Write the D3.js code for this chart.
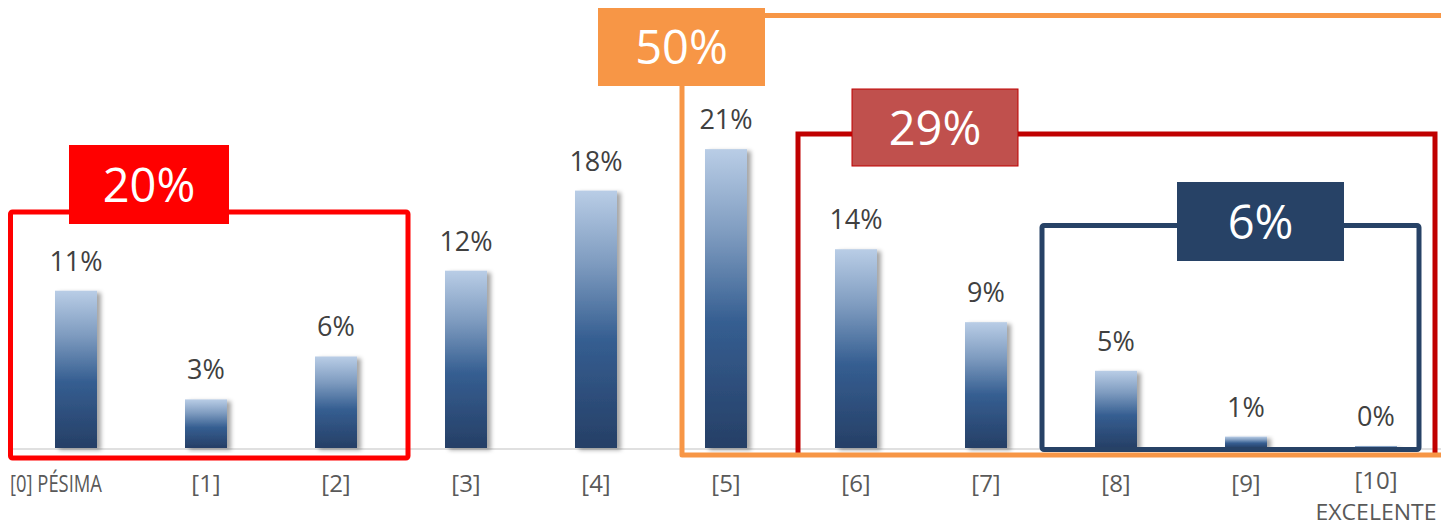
<!DOCTYPE html>
<html>
<head>
<meta charset="utf-8">
<script src="https://cdnjs.cloudflare.com/ajax/libs/d3/7.8.5/d3.min.js"></script>
<style>
  html, body { margin: 0; padding: 0; background: #fff; }
  svg { display: block; }
</style>
</head>
<body>
<div id="chart"></div>
<script>
(function(){
  var width = 1441;
  var height = 527;

  // data
  var categories = ['0','1','2','3','4','5','6','7','8','9','10'];
  var tickLabels = ['[0] PÉSIMA','[1]','[2]','[3]','[4]','[5]','[6]','[7]','[8]','[9]','[10]'];
  var values = [11.0, 3.4, 6.4, 12.4, 18.0, 20.9, 13.9, 8.8, 5.4, 0.8, 0.14];
  var groupFrom = [0, 5, 6, 8];
  var groupTo = [2, 10, 10, 10];

  var svg = d3.select('#chart').append('svg')
      .attr('width', width)
      .attr('height', height);

  var defs = svg.append('defs');
  var grad = defs.append('linearGradient')
      .attr('id', 'barGrad')
      .attr('x1', 0).attr('y1', 0).attr('x2', 0).attr('y2', 1);
  grad.append('stop').attr('offset', '0%').attr('stop-color', '#b9cde6');
  grad.append('stop').attr('offset', '28%').attr('stop-color', '#7f9cc0');
  grad.append('stop').attr('offset', '58%').attr('stop-color', '#355e91');
  grad.append('stop').attr('offset', '100%').attr('stop-color', '#263f66');

  var shadow = defs.append('filter').attr('id', 'shadow')
      .attr('x', '-20%').attr('y', '-5%').attr('width', '160%').attr('height', '115%');
  shadow.append('feDropShadow')
      .attr('dx', 4).attr('dy', 2).attr('stdDeviation', 2.2)
      .attr('flood-color', '#000').attr('flood-opacity', 0.35);

  var baseY = 448;
  var x = d3.scaleBand().domain(categories).range([11, 1441]).padding(0);
  var y = d3.scaleLinear().domain([0, 30]).range([baseY, baseY - 429]);
  var barW = 42;

  // light baseline
  svg.append('line')
      .attr('x1', 11).attr('x2', width)
      .attr('y1', baseY + 1).attr('y2', baseY + 1)
      .attr('stroke', '#e0e0e0').attr('stroke-width', 2);

  // bars
  svg.selectAll('rect.bar')
      .data(values)
      .enter()
      .append('rect')
        .attr('class', 'bar')
        .attr('x', function(d, i){ return x(categories[i]) + x.bandwidth() / 2 - barW / 2; })
        .attr('y', function(d){ return y(d); })
        .attr('width', barW)
        .attr('height', function(d){ return baseY - y(d); })
        .attr('fill', 'url(#barGrad)')
        .attr('filter', 'url(#shadow)');

  // value labels
  svg.selectAll('text.val')
      .data(values)
      .enter()
      .append('text')
        .attr('class', 'val')
        .text(function(d){ return Math.round(d) + '%'; })
        .attr('text-anchor', 'middle')
        .attr('x', function(d, i){ return x(categories[i]) + x.bandwidth() / 2; })
        .attr('y', function(d){ return y(d) - 20; })
        .attr('font-family', 'Open Sans')
        .attr('font-size', '27px')
        .attr('fill', '#404040');

  // category axis
  var axis = svg.append('g')
      .attr('transform', 'translate(0,' + baseY + ')')
      .call(d3.axisBottom(x).tickSize(0).tickPadding(27)
        .tickFormat(function(d, i){ return tickLabels[i]; }));
  axis.select('.domain').remove();
  axis.selectAll('text')
      .attr('font-family', 'Open Sans')
      .attr('font-size', '24px')
      .attr('fill', '#595959');
  axis.select('.tick text')
      .attr('text-anchor', 'start')
      .attr('x', -66)
      .attr('textLength', 92)
      .attr('lengthAdjust', 'spacingAndGlyphs');
  var lastText = axis.selectAll('.tick').filter(function(d){ return d === '10'; })
    .select('text')
      .attr('y', 24);
  lastText.append('tspan')
      .attr('x', 0)
      .attr('dy', 31)
      .attr('font-size', '21px')
      .attr('textLength', 121)
      .attr('lengthAdjust', 'spacingAndGlyphs')
      .text('EXCELENTE');

  // group annotations: sums of the shown percentages
  var shown = values.map(function(d){ return Math.round(d); });
  var groupSum = groupFrom.map(function(f, k){
    return d3.sum(shown.slice(f, groupTo[k] + 1));
  });

  function boxText(g, cx, cy, txt){
    g.append('text')
      .text(txt)
      .attr('x', cx).attr('y', cy + 17)
      .attr('text-anchor', 'middle')
      .attr('font-family', 'Open Sans')
      .attr('font-size', '47px')
      .attr('fill', '#ffffff');
  }

  // red box [0]-[2]
  var gRed = svg.append('g');
  gRed.append('rect')
      .attr('x', x(categories[groupFrom[0]]) - 0.5).attr('y', 212)
      .attr('width', 397.5).attr('height', 246)
      .attr('rx', 2)
      .attr('fill', 'none').attr('stroke', '#ff0000').attr('stroke-width', 5);
  gRed.append('rect')
      .attr('x', 69).attr('y', 145).attr('width', 160).attr('height', 79)
      .attr('fill', '#ff0000');
  boxText(gRed, 149, 185, groupSum[0] + '%');

  // dark red box [6]-[10]
  var gDark = svg.append('g');
  gDark.append('polyline')
      .attr('points', [[798, 455], [798, 134], [1435, 134], [1435, 455]].join(' '))
      .attr('fill', 'none').attr('stroke', '#c00000').attr('stroke-width', 5);
  gDark.append('rect')
      .attr('x', 852).attr('y', 89).attr('width', 166).attr('height', 77)
      .attr('fill', '#c0504d').attr('stroke', '#c00000').attr('stroke-width', 1);
  boxText(gDark, 935, 127.5, groupSum[2] + '%');

  // navy box [8]-[10]
  var gNavy = svg.append('g');
  gNavy.append('rect')
      .attr('x', 1042).attr('y', 225.5)
      .attr('width', 377).attr('height', 224)
      .attr('rx', 2)
      .attr('fill', 'none').attr('stroke', '#274266').attr('stroke-width', 5);
  gNavy.append('rect')
      .attr('x', 1177).attr('y', 182).attr('width', 167).attr('height', 79)
      .attr('fill', '#274266');
  boxText(gNavy, 1260.5, 221.5, groupSum[3] + '%');

  // orange box [5]-[10]
  var gOr = svg.append('g');
  gOr.append('polyline')
      .attr('points', [[width, 15.5], [682, 15.5], [682, 455], [width, 455]].join(' '))
      .attr('fill', 'none').attr('stroke', '#f79646').attr('stroke-width', 5)
      .attr('stroke-linejoin', 'round');
  gOr.append('rect')
      .attr('x', 598).attr('y', 8).attr('width', 167).attr('height', 78)
      .attr('fill', '#f79646');
  boxText(gOr, 681.5, 47, groupSum[1] + '%');
})()
</script>
</body>
</html>
